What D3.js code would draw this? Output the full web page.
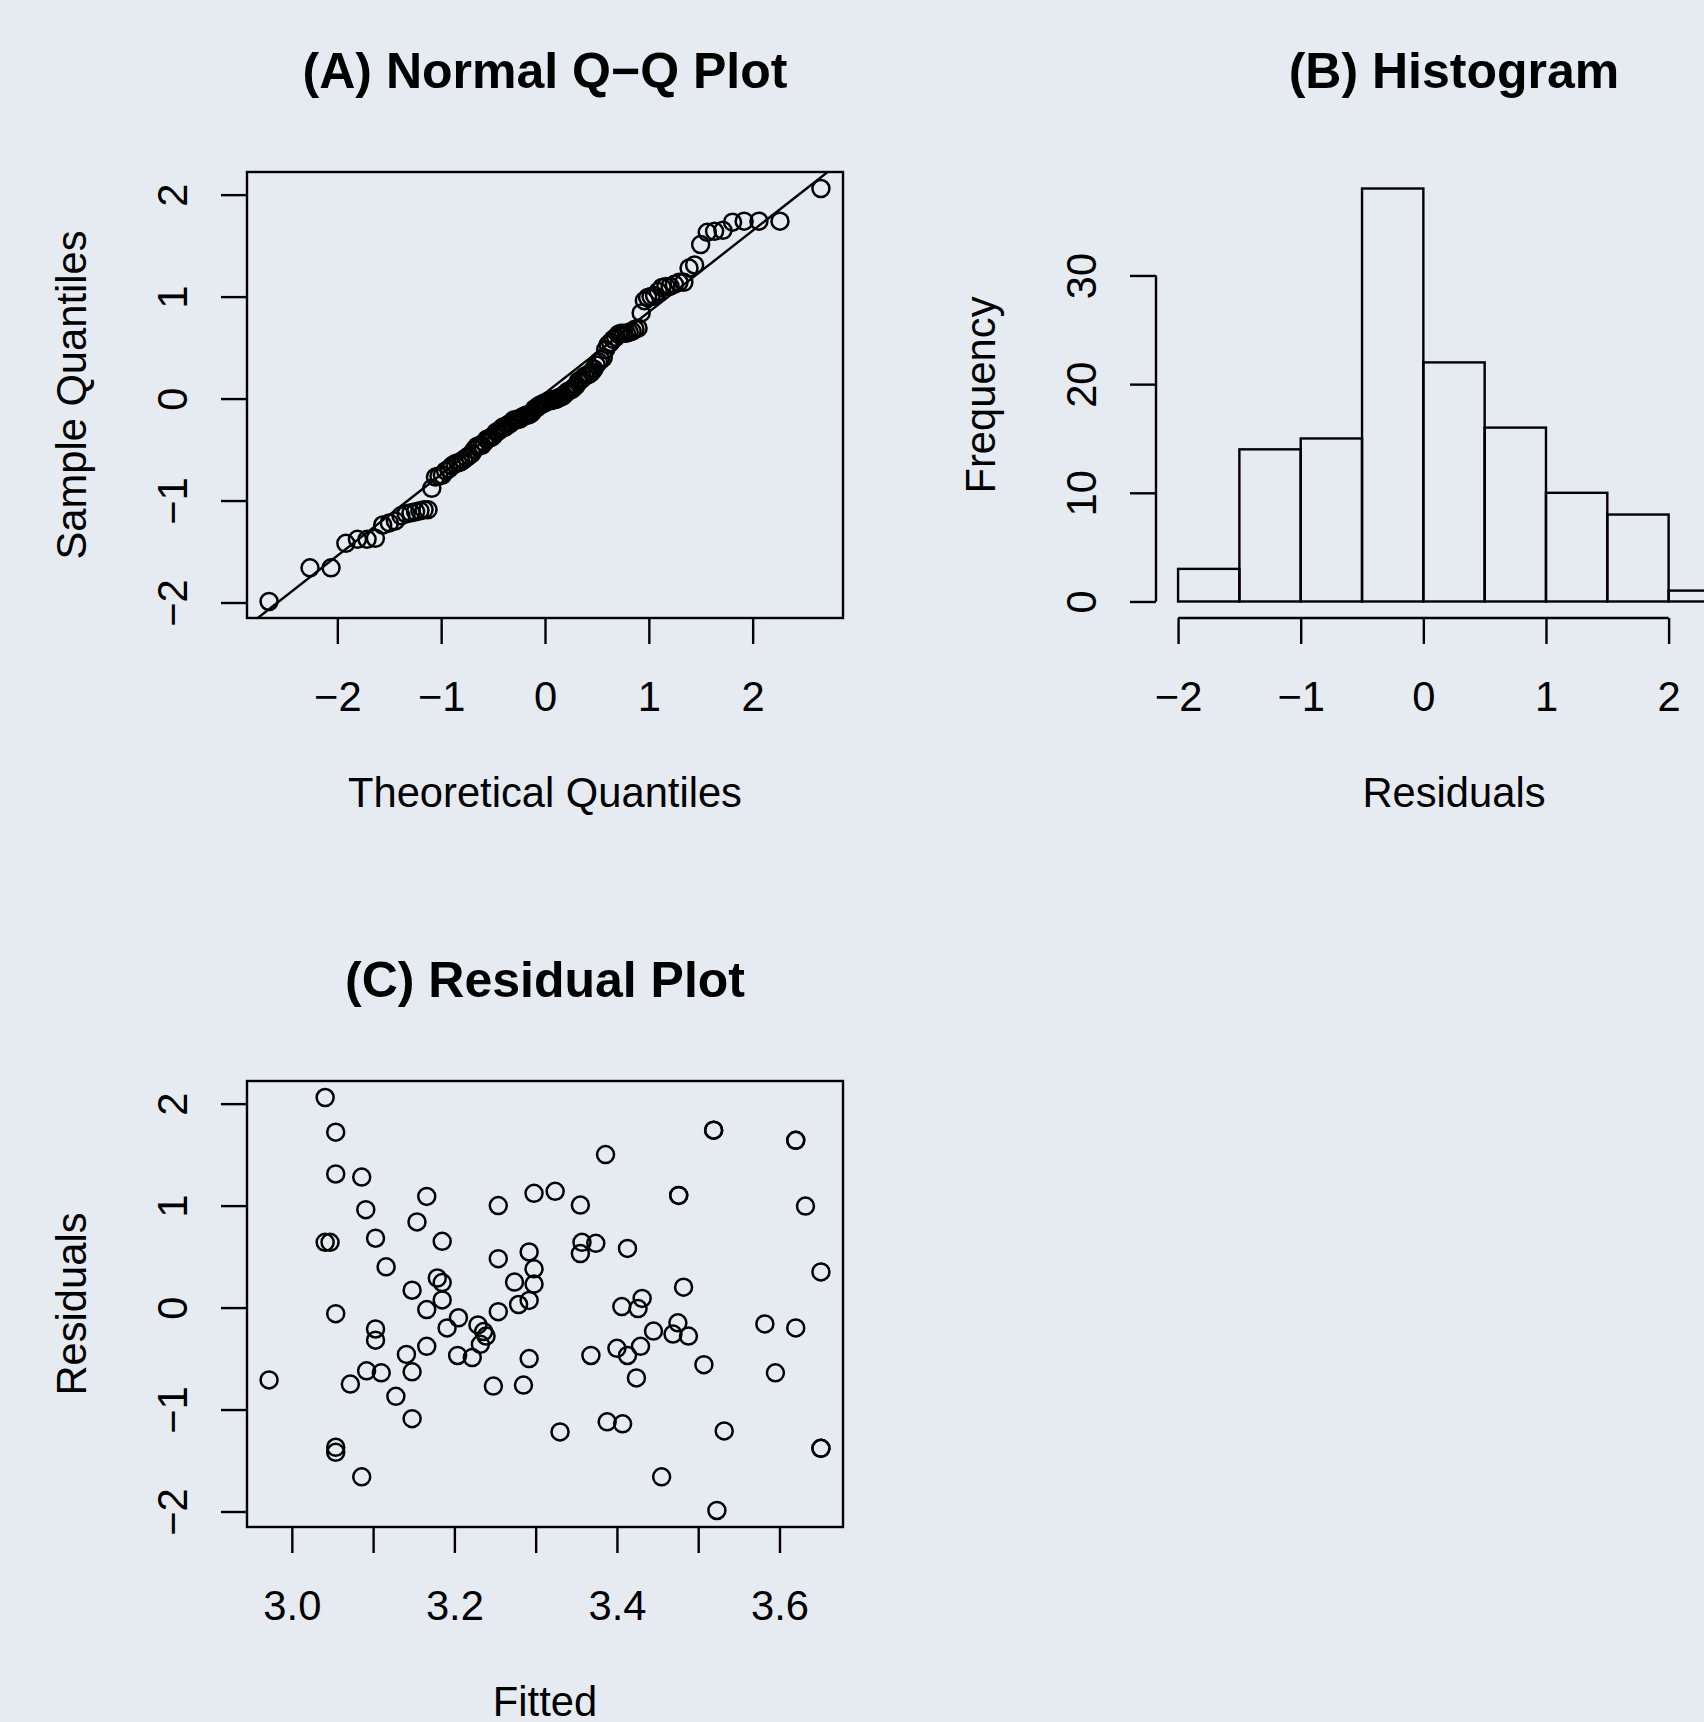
<!DOCTYPE html>
<html lang="en">
<head>
  <meta charset="utf-8">
  <title>Residual diagnostics</title>
  <script src="https://cdn.jsdelivr.net/npm/d3@7"></script>
  <style>
    body { margin: 0; background: #e6ebf2; }
    svg { display: block; font-family: "Liberation Sans", Arial, Helvetica, sans-serif; }
    .frame, .bar, .qqline, .axisline { stroke: #000; stroke-width: 2.4; fill: none; }
    .tick line { stroke: #000; stroke-width: 2.4; }
    .pt { fill: none; stroke: #000; stroke-width: 2.5; }
    .tick text, .lab { font-size: 41.7px; fill: #000; }
    .title { font-size: 50px; font-weight: bold; fill: #000; }
  </style>
</head>
<body>
<script>
// (A) sorted residuals
var qqSample = [
  -1.99, -1.66, -1.66,
  -1.42, -1.38, -1.38, -1.37, -1.24, -1.22, -1.20, -1.15, -1.13, -1.12, -1.11, -1.10, -1.09, -1.09,
  -0.88, -0.77, -0.76, -0.75, -0.71, -0.69, -0.66, -0.64, -0.63, -0.62, -0.60, -0.58, -0.56, -0.54, -0.50,
  -0.47, -0.46, -0.46, -0.43, -0.40, -0.39, -0.38, -0.36, -0.33, -0.32, -0.30, -0.28, -0.28, -0.26,
  -0.25, -0.23, -0.21, -0.21, -0.20, -0.20, -0.18, -0.17, -0.16, -0.16, -0.15, -0.13, -0.10, -0.09,
  -0.07, -0.06, -0.05, -0.04, -0.03, -0.02, -0.02, -0.01, -0.01, 0.00,
  0.01, 0.02, 0.03, 0.05, 0.07, 0.08, 0.09, 0.11, 0.13, 0.17, 0.18, 0.20, 0.22, 0.23, 0.24, 0.26,
  0.29, 0.33, 0.36, 0.38, 0.40, 0.48,
  0.53, 0.55, 0.58, 0.60, 0.63, 0.64, 0.64, 0.64, 0.65, 0.66, 0.68, 0.69, 0.84, 0.96, 0.99, 1.00,
  1.01, 1.05, 1.09, 1.10, 1.10, 1.12, 1.14, 1.14, 1.28, 1.31,
  1.51, 1.63, 1.64, 1.65, 1.73, 1.74, 1.74, 1.74,
  2.06
];

// (B) histogram
var binEdges = [-2, -1.5, -1, -0.5, 0, 0.5, 1, 1.5, 2, 2.5];
var histCounts = [3, 14, 15, 38, 22, 16, 10, 8, 1];

// (C) fitted vs residuals
var fitted = [
  3.041, 3.054, 3.054, 3.086, 3.091, 3.166, 3.154, 3.103, 3.041, 3.047,
  3.116, 3.185, 3.179, 3.185, 3.148, 3.185, 3.166, 3.054, 3.205, 3.191,
  3.103, 3.103, 3.229, 3.236, 3.239, 3.232, 3.222, 3.204, 3.166, 3.141,
  3.148, 3.110, 3.092, 3.072, 3.128, 3.148, 2.972, 3.054, 3.054, 3.086,
  3.254, 3.254, 3.254, 3.248, 3.285, 3.292, 3.292, 3.298, 3.298, 3.274,
  3.292, 3.279, 3.298, 3.324, 3.355, 3.386, 3.357, 3.374, 3.355, 3.413,
  3.330, 3.368, 3.388, 3.407, 3.406, 3.431, 3.426, 3.400, 3.413, 3.429,
  3.424, 3.445, 3.475, 3.469, 3.488, 3.482, 3.476, 3.519, 3.507, 3.455,
  3.532, 3.523, 3.582, 3.595, 3.620, 3.620, 3.632, 3.651, 3.651,
  3.519, 3.620, 3.476, 3.651
];
var resid = [
  2.06, 1.72, 1.31, 1.28, 0.96, 1.09, 0.84, 0.68, 0.64, 0.64,
  0.40, 0.65, 0.29, 0.245, 0.17, 0.075, -0.02, -0.06, -0.10, -0.20,
  -0.21, -0.32, -0.17, -0.235, -0.28, -0.36, -0.49, -0.47, -0.38, -0.46,
  -0.63, -0.64, -0.62, -0.75, -0.87, -1.09, -0.71, -1.37, -1.42, -1.66,
  1.00, 0.48, -0.04, -0.77, -0.76, -0.50, 0.545, 0.38, 0.23, 0.25,
  0.07, 0.03, 1.12, 1.14, 1.005, 1.50, 0.64, 0.63, 0.53, 0.58,
  -1.22, -0.47, -1.12, -1.14, 0.01, 0.09, -0.01, -0.40, -0.47, -0.38,
  -0.69, -0.23, -0.15, -0.26, -0.28, 0.20, 1.10, 1.74, -0.56, -1.66,
  -1.21, -1.99, -0.16, -0.64, -0.20, 1.64, 0.995, 0.35, -1.38,
  1.74, 1.64, 1.10, -1.38
];

var qqTicks = [-2, -1, 0, 1, 2];
var histXTicks = [-2, -1, 0, 1, 2];
var histYTicks = [0, 10, 20, 30];
var fitTicks = [3.0, 3.1, 3.2, 3.3, 3.4, 3.5, 3.6];
var fitLabels = ["3.0", "", "3.2", "", "3.4", "", "3.6"];

// page and panel geometry (each panel is a 909px square)
var width = 1704, height = 1722, step = 909;
var L = 247, R = 843, T = 172, B = 618;
var tickLen = 26;
var intFmt = d3.format("d");   // gives the real minus sign

var svg = d3.select("body").append("svg")
  .attr("width", width)
  .attr("height", height);

// R pads the data range by 4% on each side
function pad(ext) {
  var d = (ext[1] - ext[0]) * 0.04;
  return [ext[0] - d, ext[1] + d];
}

// inverse normal cdf (Acklam) for the theoretical quantiles
function qnorm(p) {
  var a = [-39.69683028665376, 220.9460984245205, -275.9285104469687, 138.3577518672690, -30.66479806614716, 2.506628277459239];
  var b = [-54.47609879822406, 161.5858368580409, -155.6989798598866, 66.80131188771972, -13.28068155288572];
  var c = [-0.007784894002430293, -0.3223964580411365, -2.400758277161838, -2.549732539343734, 4.374664141464968, 2.938163982698783];
  var d = [0.007784695709041462, 0.3224671290700398, 2.445134137142996, 3.754408661907416];
  var q, r;
  if (p < 0.02425) {
    q = Math.sqrt(-2 * Math.log(p));
    return (((((c[0]*q+c[1])*q+c[2])*q+c[3])*q+c[4])*q+c[5]) / ((((d[0]*q+d[1])*q+d[2])*q+d[3])*q+1);
  }
  if (p > 1 - 0.02425) {
    q = Math.sqrt(-2 * Math.log(1 - p));
    return -(((((c[0]*q+c[1])*q+c[2])*q+c[3])*q+c[4])*q+c[5]) / ((((d[0]*q+d[1])*q+d[2])*q+d[3])*q+1);
  }
  q = p - 0.5; r = q * q;
  return (((((a[0]*r+a[1])*r+a[2])*r+a[3])*r+a[4])*r+a[5])*q / (((((b[0]*r+b[1])*r+b[2])*r+b[3])*r+b[4])*r+1);
}

function panel(col, row) {
  return svg.append("g").attr("transform", "translate(" + (col * step) + "," + (row * step) + ")");
}

function cleanAxis(a) {
  a.attr("font-size", null).attr("font-family", null);
  a.select(".domain").remove();
  return a;
}

function xAxis(g, scale, ticks, labels) {
  var ax = d3.axisBottom(scale).tickValues(ticks).tickSize(tickLen).tickPadding(37)
    .tickFormat(labels ? function(d, i) { return labels[i]; } : intFmt);
  return cleanAxis(g.append("g").attr("transform", "translate(0," + B + ")").call(ax));
}

function yAxis(g, scale, ticks) {
  var a = cleanAxis(g.append("g").attr("transform", "translate(" + L + ",0)")
    .call(d3.axisLeft(scale).tickValues(ticks).tickSize(tickLen).tickFormat(intFmt)));
  // R draws y tick labels parallel to the axis
  a.selectAll(".tick text")
    .attr("x", null).attr("dy", null)
    .attr("text-anchor", "middle")
    .attr("transform", "translate(-60,0) rotate(-90)");
  return a;
}

function labels(g, title, xlab, ylab) {
  g.append("text").attr("class", "title").attr("x", (L + R) / 2).attr("y", 88)
    .attr("text-anchor", "middle").text(title);
  g.append("text").attr("class", "lab").attr("x", (L + R) / 2).attr("y", B + 189)
    .attr("text-anchor", "middle").text(xlab);
  g.append("text").attr("class", "lab").attr("text-anchor", "middle")
    .attr("transform", "translate(86," + ((T + B) / 2) + ") rotate(-90)").text(ylab);
}

function frame(g) {
  g.append("rect").attr("class", "frame")
    .attr("x", L).attr("y", T).attr("width", R - L).attr("height", B - T);
}

// ---- (A) Normal Q-Q plot ----
var n = qqSample.length;
var qqData = qqSample.map(function(v, i) { return { q: qnorm((i + 0.5) / n), s: v }; });

var gA = panel(0, 0);
var xA = d3.scaleLinear().domain(pad(d3.extent(qqData, function(d) { return d.q; }))).range([L, R]);
var yA = d3.scaleLinear().domain(pad(d3.extent(qqSample))).range([B, T]);

svg.append("clipPath").attr("id", "clipA")
  .append("rect").attr("x", L).attr("y", T).attr("width", R - L).attr("height", B - T);

gA.selectAll("circle").data(qqData).enter().append("circle")
  .attr("class", "pt")
  .attr("cx", function(d) { return xA(d.q); })
  .attr("cy", function(d) { return yA(d.s); })
  .attr("r", 8.5);

// qqline through the quartiles
var y25 = d3.quantile(qqSample, 0.25), y75 = d3.quantile(qqSample, 0.75);
var slope = (y75 - y25) / (qnorm(0.75) - qnorm(0.25));
var icpt = y25 - slope * qnorm(0.25);
var xd = xA.domain();
gA.append("line").attr("class", "qqline").attr("clip-path", "url(#clipA)")
  .attr("x1", xA(xd[0])).attr("y1", yA(icpt + slope * xd[0]))
  .attr("x2", xA(xd[1])).attr("y2", yA(icpt + slope * xd[1]));

frame(gA);
xAxis(gA, xA, qqTicks);
yAxis(gA, yA, qqTicks);
labels(gA, "(A) Normal Q\u2212Q Plot", "Theoretical Quantiles", "Sample Quantiles");

// ---- (B) Histogram ----
var gB = panel(1, 0);
var xB = d3.scaleLinear().domain(pad([binEdges[0], binEdges[binEdges.length - 1]])).range([L, R]);
var yB = d3.scaleLinear().domain(pad([0, d3.max(histCounts)])).range([B, T]);

gB.selectAll("rect.bar").data(histCounts).enter().append("rect")
  .attr("class", "bar")
  .attr("x", function(d, i) { return xB(binEdges[i]); })
  .attr("width", function(d, i) { return xB(binEdges[i + 1]) - xB(binEdges[i]); })
  .attr("y", function(d) { return yB(d); })
  .attr("height", function(d) { return yB(0) - yB(d); });

xAxis(gB, xB, histXTicks);
yAxis(gB, yB, histYTicks);
// axis lines only span the ticks
gB.append("line").attr("class", "axisline")
  .attr("x1", xB(histXTicks[0])).attr("x2", xB(histXTicks[histXTicks.length - 1]))
  .attr("y1", B).attr("y2", B);
gB.append("line").attr("class", "axisline")
  .attr("x1", L).attr("x2", L)
  .attr("y1", yB(histYTicks[0])).attr("y2", yB(histYTicks[histYTicks.length - 1]));
labels(gB, "(B) Histogram", "Residuals", "Frequency");

// ---- (C) Residual plot ----
var gC = panel(0, 1);
var xC = d3.scaleLinear().domain(pad(d3.extent(fitted))).range([L, R]);
var yC = d3.scaleLinear().domain(pad(d3.extent(resid))).range([B, T]);

gC.selectAll("circle").data(fitted).enter().append("circle")
  .attr("class", "pt")
  .attr("cx", function(d) { return xC(d); })
  .attr("cy", function(d, i) { return yC(resid[i]); })
  .attr("r", 8.5);

frame(gC);
xAxis(gC, xC, fitTicks, fitLabels);
yAxis(gC, yC, qqTicks);
labels(gC, "(C) Residual Plot", "Fitted", "Residuals");
</script>
</body>
</html>
